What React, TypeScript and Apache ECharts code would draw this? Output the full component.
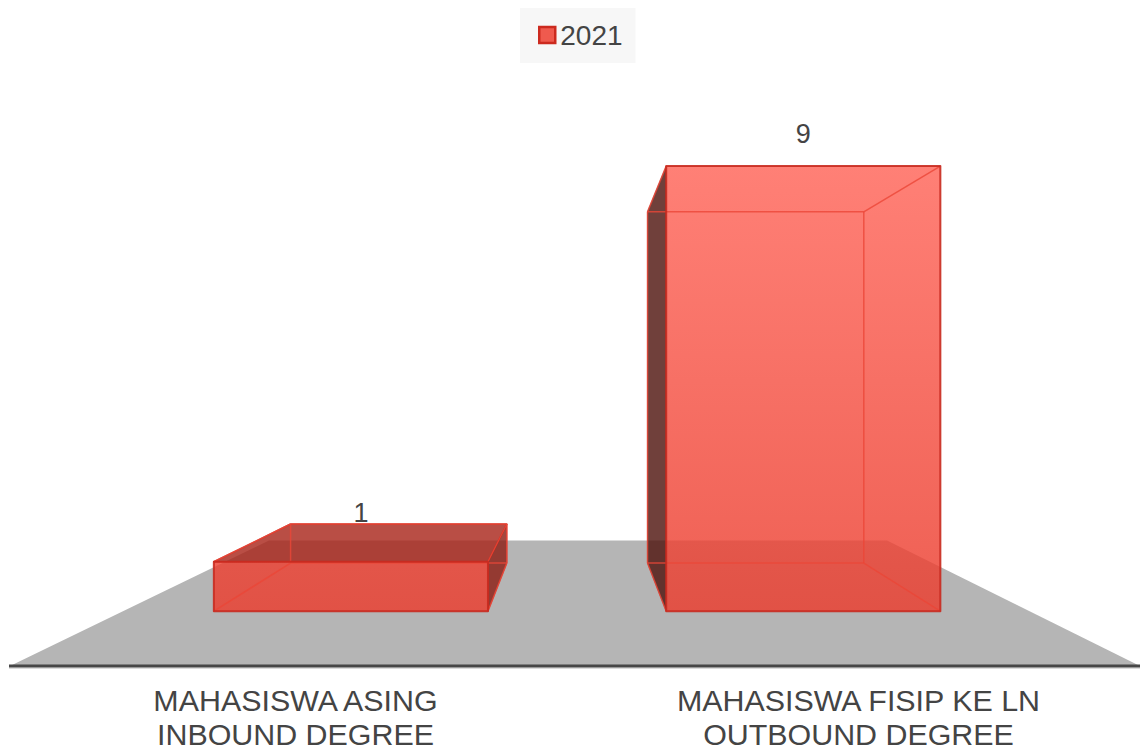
import React, { useEffect, useRef } from "react";
import * as echarts from "echarts";

const categories = ["MAHASISWA ASING\nINBOUND DEGREE", "MAHASISWA FISIP KE LN\nOUTBOUND DEGREE"];
const seriesName = "2021";
const values = [1, 9];
const labelShift = [[10, -49], [0, -32]];

const FONT = '"Liberation Sans", Arial, sans-serif';
const VX = 577.5;
const VY = 383;
const K_FRONT = 0.8035;
const K_BACK = 0.634;
const BAR_FRACTION = 0.606;

function project(x: number, y: number, k: number): number[] {
  return [VX + (x - VX) * k, VY + (y - VY) * k];
}

function face(points: number[][], fill: any, stroke: string, lineWidth: number) {
  return { type: "polygon", shape: { points }, style: { fill, stroke, lineWidth, lineJoin: "round" } };
}

function edge(a: number[], b: number[], stroke: string, lineWidth: number) {
  return { type: "line", shape: { x1: a[0], y1: a[1], x2: b[0], y2: b[1] }, style: { stroke, lineWidth } };
}

function renderBar(params: any, api: any) {
  const idx = api.value(0);
  const val = api.value(1);
  const top = api.coord([idx, val]);
  const base = api.coord([idx, 0]);
  const half = (api.size([1, 0])[0] * BAR_FRACTION) / 2;
  const x0 = top[0] - half;
  const x1 = top[0] + half;
  const ftl = project(x0, top[1], K_FRONT);
  const ftr = project(x1, top[1], K_FRONT);
  const fbl = project(x0, base[1], K_FRONT);
  const fbr = project(x1, base[1], K_FRONT);
  const btl = project(x0, top[1], K_BACK);
  const btr = project(x1, top[1], K_BACK);
  const bbl = project(x0, base[1], K_BACK);
  const bbr = project(x1, base[1], K_BACK);

  const inner = "rgba(235,70,55,0.8)";
  const outer = "rgba(200,42,31,0.9)";
  const children: any[] = [];

  if (btl[1] < ftl[1]) {
    children.push(face([ftl, btl, btr, ftr], "rgba(169,37,26,0.81)", "rgba(200,42,31,0.85)", 1.5));
  }
  if (btl[0] < ftl[0]) {
    children.push(face([ftl, btl, bbl, fbl], "rgba(79,20,14,0.81)", "rgba(120,30,22,0.6)", 1));
  }
  if (btr[0] > ftr[0]) {
    children.push(face([ftr, btr, bbr, fbr], "rgba(140,30,20,0.81)", "rgba(200,42,31,0.8)", 1));
  }

  const gradient = new echarts.graphic.LinearGradient(
    0, 165, 0, 611,
    [
      { offset: 0, color: "rgba(255,100,88,0.82)" },
      { offset: 1, color: "rgba(235,60,45,0.82)" },
    ],
    true
  );
  children.push(face([ftl, ftr, fbr, fbl], gradient, "rgba(0,0,0,0)", 0));

  children.push(edge(btl, btr, inner, 1.5));
  children.push(edge(btr, bbr, inner, 1.5));
  children.push(edge(bbl, bbr, inner, 1.5));
  children.push(edge(btl, bbl, inner, 1.5));
  children.push(edge(ftl, btl, inner, 1.5));
  children.push(edge(ftr, btr, inner, 1.5));
  children.push(edge(fbl, bbl, inner, 1.5));
  children.push(edge(fbr, bbr, inner, 1.5));
  children.push(face([ftl, ftr, fbr, fbl], "rgba(0,0,0,0)", outer, 2));

  const shift = labelShift[params.dataIndex];
  children.push({
    type: "text",
    style: {
      text: String(val),
      x: (ftl[0] + ftr[0]) / 2 + shift[0],
      y: ftl[1] + shift[1],
      align: "center",
      verticalAlign: "middle",
      fill: "#444444",
      font: `27px ${FONT}`,
    },
  });
  return { type: "group", children };
}

function renderFloor(_params: any, api: any) {
  const left = api.coord([0, 0]);
  const y = left[1] - 1;
  const backY = 540.5;
  return {
    type: "group",
    children: [
      { type: "polygon", shape: { points: [[10, y], [1140, y], [887, backY], [269, backY]] }, style: { fill: "#b5b5b5" } },
      { type: "line", shape: { x1: 9, y1: y + 2.2, x2: 1140, y2: y + 2.2 }, style: { stroke: "#dcdcdc", lineWidth: 1.5 } },
      { type: "line", shape: { x1: 9, y1: y, x2: 1140, y2: y }, style: { stroke: "#474747", lineWidth: 3 } },
    ],
  };
}

export default function App() {
  const ref = useRef<HTMLDivElement>(null);
  useEffect(() => {
    document.body.style.margin = "0";
    const chart = echarts.init(ref.current, undefined, { renderer: "svg" });
    chart.setOption({
      animation: false,
      legend: {
        data: [seriesName],
        left: 520,
        top: 8,
        padding: [13, 13, 14, 18],
        backgroundColor: "#f7f7f7",
        icon: "rect",
        itemWidth: 16,
        itemHeight: 16,
        itemGap: 5,
        itemStyle: { color: "#ef5a4e", borderColor: "#cc2a1f", borderWidth: 2.5 },
        textStyle: { color: "#444444", fontSize: 28, fontFamily: FONT },
      },
      grid: { left: 14, top: 51.5, width: 1130, height: 617, containLabel: false },
      xAxis: {
        type: "category",
        data: categories,
        axisLine: { show: false },
        axisTick: { show: false },
        axisLabel: {
          color: "#444444",
          fontSize: 30.4,
          fontFamily: FONT,
          lineHeight: 34,
          margin: 16,
          interval: 0,
        },
      },
      yAxis: { type: "value", min: 0, max: 10, show: false, splitLine: { show: false } },
      series: [
        {
          type: "custom",
          name: "floor",
          data: [[0, 0]],
          encode: { x: 0, y: 1 },
          clip: false,
          silent: true,
          z: 1,
          renderItem: renderFloor,
        },
        {
          type: "custom",
          name: seriesName,
          data: values.map((v, i) => [i, v]),
          encode: { x: 0, y: 1 },
          clip: false,
          z: 2,
          itemStyle: { color: "#ef5a4e" },
          renderItem: renderBar,
        },
      ],
    });
    return () => chart.dispose();
  }, []);
  return <div ref={ref} style={{ position: "absolute", left: 0, top: 0, width: 1140, height: 751 }} />;
}
